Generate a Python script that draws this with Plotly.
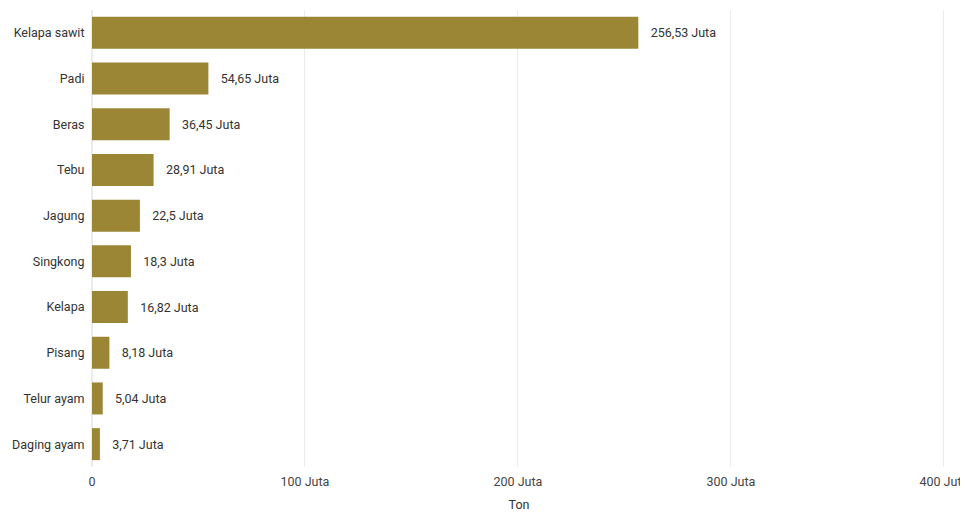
import plotly.graph_objects as go

categories = ["Kelapa sawit", "Padi", "Beras", "Tebu", "Jagung", "Singkong",
              "Kelapa", "Pisang", "Telur ayam", "Daging ayam"]
values = [256.53, 54.65, 36.45, 28.91, 22.5, 18.3, 16.82, 8.18, 5.04, 3.71]
labels = ["256,53 Juta", "54,65 Juta", "36,45 Juta", "28,91 Juta", "22,5 Juta",
          "18,3 Juta", "16,82 Juta", "8,18 Juta", "5,04 Juta", "3,71 Juta"]
tick_vals = [0, 100, 200, 300, 400]
tick_text = ["0", "100 Juta", "200 Juta", "300 Juta", "400 Juta"]

pad = "\u00a0\u00a0\u00a0"
fig = go.Figure(go.Bar(
    y=categories, x=values, orientation="h",
    marker=dict(color="#9A8634", line=dict(width=0)),
    text=[pad + t for t in labels], textposition="outside", cliponaxis=False,
    textfont=dict(size=12.5, color="#333333"),
))

fig.update_layout(
    width=960, height=504,
    margin=dict(l=84, r=22, t=2, b=45),
    paper_bgcolor="white", plot_bgcolor="white",
    font=dict(family="Roboto", size=12.5, color="#333333"),
    bargap=0.3,
    showlegend=False,
)
fig.update_xaxes(range=[0, 401], tickvals=tick_vals, ticktext=tick_text,
                 automargin=False, ticklabeloverflow="allow",
                 showgrid=True, gridcolor="#ebebeb", gridwidth=1,
                 zeroline=True, zerolinecolor="#ebebeb",
                 title=dict(text="Ton", standoff=13, font=dict(size=12.5)),
                 ticks="outside", ticklen=3, tickcolor="rgba(0,0,0,0)",
                 tickfont=dict(size=12.5, color="#444444"))
fig.update_yaxes(autorange="reversed", automargin=False,
                 ticks="outside", ticklen=4, tickcolor="rgba(0,0,0,0)",
                 tickfont=dict(size=12.5, color="#333333"), showgrid=False)

fig.write_html("out.html")
